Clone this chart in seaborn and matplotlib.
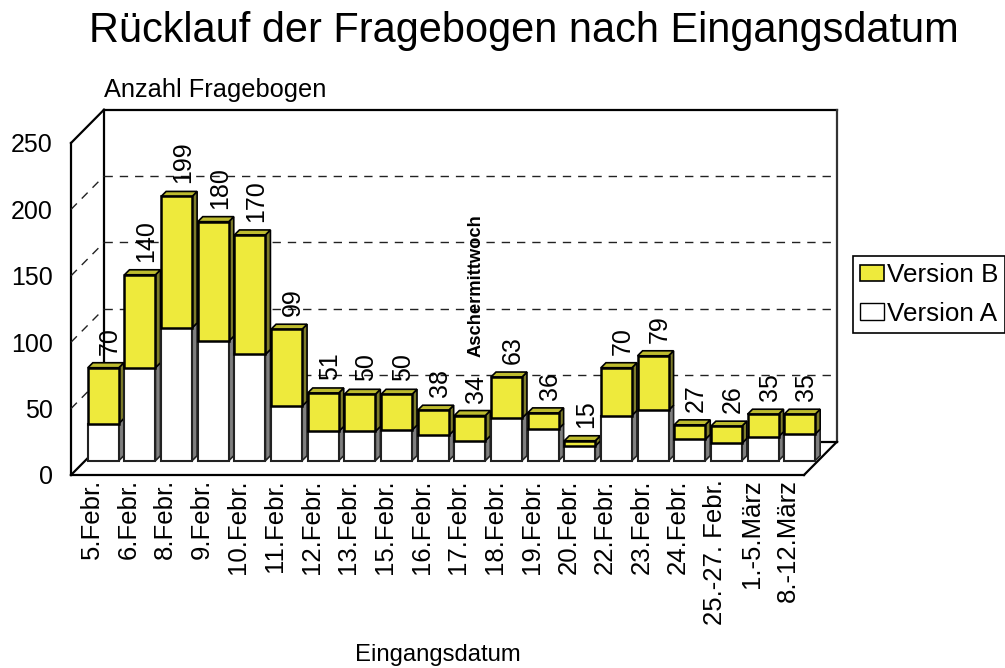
import matplotlib
matplotlib.use("Agg")
import matplotlib.pyplot as plt
from matplotlib.lines import Line2D
from matplotlib.patches import Polygon, Patch
from matplotlib.transforms import Affine2D, IdentityTransform
import seaborn as sns

dates = ["5.Febr.", "6.Febr.", "8.Febr.", "9.Febr.", "10.Febr.", "11.Febr.", "12.Febr.",
         "13.Febr.", "15.Febr.", "16.Febr.", "17.Febr.", "18.Febr.", "19.Febr.", "20.Febr.",
         "22.Febr.", "23.Febr.", "24.Febr.", "25.-27. Febr.", "1.-5.März", "8.-12.März"]
version_a = [28, 70, 100, 90, 80, 41, 22, 22, 23, 19, 15, 32, 24, 11, 34, 38, 16, 13, 18, 20]
version_b = [42, 70, 99, 90, 90, 58, 29, 28, 27, 19, 19, 31, 12, 4, 36, 41, 11, 13, 17, 15]
totals = [70, 140, 199, 180, 170, 99, 51, 50, 50, 38, 34, 63, 36, 15, 70, 79, 27, 26, 35, 35]
y_ticks = [0, 50, 100, 150, 200, 250]
grid_values = [50, 100, 150, 200]

W, H = 1005, 668
YELLOW, YELLOW_TOP, YELLOW_SIDE = "#EEEA3C", "#BDBB2E", "#7D7C2A"
WHITE_SIDE = "#7F7F7F"
BAR_SHIFT = (14, 14.3)
WALL_DEPTH = (33, 33.3)
FACE = 5

sns.set_theme(style="white")
plt.rcParams["font.family"] = ["Liberation Sans", "DejaVu Sans"]

fig = plt.figure(figsize=(W / 100, H / 100), dpi=100)
ax = fig.add_axes([71 / W, 1 - 475 / H, 733 / W, 332 / H])
ax.patch.set_visible(False)
for s in ax.spines.values():
    s.set_visible(False)

sns.barplot(x=dates, y=version_a, color="white", saturation=1, width=31 / 36.67,
            edgecolor="#222222", linewidth=1.5, zorder=4, ax=ax)
n_a = len(ax.patches)
sns.barplot(x=dates, y=version_b, bottom=version_a, color=YELLOW, saturation=1, width=31 / 36.67,
            edgecolor="black", linewidth=1.8, zorder=4, ax=ax)
ax.set_xlim(-0.5, 19.5)
ax.set_ylim(0, 250)
ax.set_yticks(y_ticks)
ax.set_yticklabels([str(v) for v in y_ticks], fontsize=18, color="black")
ax.tick_params(axis="y", length=0, pad=13)
ax.tick_params(axis="x", length=0, pad=3)
ax.set_xticks(range(len(dates)))
ax.set_xticklabels(dates, rotation=90, fontsize=18.5, color="black", ha="center", va="top")
for lab in ax.get_xticklabels():
    lab.set_transform(lab.get_transform() + Affine2D().translate(2.5, 0))
ax.grid(False)

ident = IdentityTransform()
to_disp = ax.transData.transform


def line(p, q, **kw):
    kw.setdefault("color", "black")
    kw.setdefault("lw", 1.6)
    ax.add_line(Line2D([p[0], q[0]], [p[1], q[1]], transform=ident, clip_on=False, zorder=1,
                       solid_capstyle="projecting", **kw))


def wall(pt):
    return (pt[0] + WALL_DEPTH[0], pt[1] + WALL_DEPTH[1])


fl = to_disp((-0.5, 0)); fr = to_disp((19.5, 0)); tl = to_disp((-0.5, 250)); tr = to_disp((19.5, 250))
line(fl, tl); line(fl, fr)
line(tl, wall(tl)); line(fl, wall(fl)); line(fr, wall(fr))
line(wall(fl), wall(tl)); line(wall(tl), wall(tr))
line(wall(tr), wall(fr), color="#333333"); line(wall(fl), wall(fr))

for v in grid_values:
    a = to_disp((-0.5, v)); b = to_disp((19.5, v))
    line(wall(a), wall(b), lw=1.0, ls=(0, (6, 5)), color="#222222")
    line(a, wall(a), lw=1.0, ls=(0, (6, 5)), color="#222222")

shift = Affine2D().translate(*BAR_SHIFT)
for i, bar in enumerate(ax.patches[:2 * len(dates)]):
    x0, y0 = to_disp((bar.get_x(), bar.get_y()))
    x1, y1 = to_disp((bar.get_x() + bar.get_width(), bar.get_y() + bar.get_height()))
    x0 += BAR_SHIFT[0]; x1 += BAR_SHIFT[0]; y0 += BAR_SHIFT[1]; y1 += BAR_SHIFT[1]
    bar.set_transform(ax.transData + shift)
    bar.set_clip_on(False)
    is_a = i < n_a
    ax.add_patch(Polygon([(x1, y0), (x1 + FACE, y0 + FACE), (x1 + FACE, y1 + FACE), (x1, y1)],
                         closed=True, transform=ident, clip_on=False, zorder=3.5,
                         facecolor=WHITE_SIDE if is_a else YELLOW_SIDE, edgecolor="black" if not is_a else "#222222", lw=1.2))
    if not is_a:
        ax.add_patch(Polygon([(x0, y1), (x0 + FACE, y1 + FACE), (x1 + FACE, y1 + FACE), (x1, y1)],
                             closed=True, transform=ident, clip_on=False, zorder=3.5,
                             facecolor=YELLOW_TOP, edgecolor="black", lw=1.2))

for i, t in enumerate(totals):
    ax.annotate(str(t), (i, t), xytext=(BAR_SHIFT[0] + 6.5, BAR_SHIFT[1] + 13), textcoords="offset pixels",
                rotation=90, ha="center", va="bottom", fontsize=18, color="black", zorder=6,
                annotation_clip=False)

ax.annotate("Aschermittwoch", (476.5 / W, 1 - 357 / H), xycoords="figure fraction", rotation=90,
            ha="center", va="bottom", fontsize=13.2, fontweight="bold", color="black", zorder=6)

ax.set_xlabel("Eingangsdatum", fontsize=17.2, color="black")
ax.xaxis.set_label_coords(0.5, -(655 - 475) / 332)
ax.xaxis.label.set_va("center")
fig.text(104 / W, 1 - 90 / H, "Anzahl Fragebogen", fontsize=18.3, color="black", va="center", ha="left")
fig.text(524 / W, 1 - 31 / H, "Rücklauf der Fragebogen nach Eingangsdatum", fontsize=29.9,
         color="black", va="center", ha="center")

handles = [Patch(facecolor=YELLOW, edgecolor="black", lw=1.2, label="Version B"),
           Patch(facecolor="white", edgecolor="black", lw=1.0, label="Version A")]
leg = ax.legend(handles=handles, loc="upper left", bbox_to_anchor=(853 / W, 1 - 256 / H),
                bbox_transform=fig.transFigure, borderaxespad=0, fancybox=False, framealpha=1,
                edgecolor="black", fontsize=18.7, handlelength=0.9, handleheight=0.6,
                handletextpad=0.12, labelspacing=0.55, borderpad=0.28)
leg.get_frame().set_linewidth(1.2)
for txt in leg.get_texts():
    txt.set_color("black")

fig.savefig("out.png", dpi=100, facecolor="white")
